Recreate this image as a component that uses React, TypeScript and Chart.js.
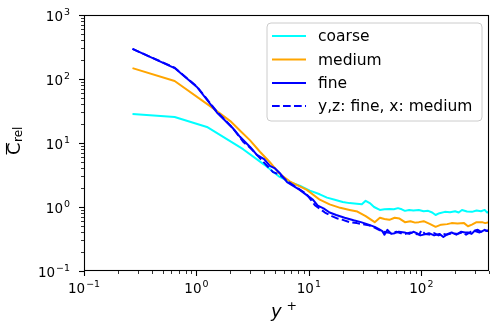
import { useEffect, useRef } from "react";
import { Chart, registerables } from "chart.js";

Chart.register(...registerables);

// ---- data ----
const coarseX = [0.27, 0.64, 1.24, 2.6, 4.0, 5.5, 7.0, 8.3, 10.2, 12.5, 14.5, 17, 20, 23, 26.7, 29.6, 32, 34.8, 38, 42.8, 47, 52, 57, 62, 67, 71.5, 78, 85, 95, 105, 115, 125, 134, 145, 162, 180, 200, 215, 230, 255, 282, 310, 340, 366, 385, 400];
const coarseY = [28.4, 25.5, 17.8, 8.0, 4.6, 2.95, 2.4, 2.15, 1.8, 1.58, 1.4, 1.3, 1.2, 1.15, 1.12, 1.1, 1.25, 1.15, 1.0, 0.9, 0.92, 0.93, 0.92, 0.96, 0.92, 0.87, 0.9, 0.88, 0.9, 0.86, 0.87, 0.82, 0.75, 0.8, 0.84, 0.83, 0.86, 0.82, 0.9, 0.85, 0.84, 0.88, 0.86, 0.9, 0.82, 0.84];

const mediumX = [0.27, 0.64, 1.4, 2.0, 2.5, 3.0, 3.67, 4.5, 5.5, 6.8, 9.6, 12.5, 15.3, 19, 23, 27, 32, 38.5, 42.8, 47, 52, 58, 64, 71.5, 80, 88, 95, 105, 120, 134, 150, 170, 186, 210, 240, 260, 282, 310, 347, 370, 400];
const mediumY = [148, 93, 35, 22, 15, 11, 7.3, 5.0, 3.3, 2.5, 1.85, 1.3, 1.1, 0.97, 0.9, 0.85, 0.72, 0.58, 0.68, 0.65, 0.63, 0.68, 0.66, 0.58, 0.6, 0.57, 0.58, 0.6, 0.54, 0.49, 0.53, 0.54, 0.56, 0.55, 0.56, 0.5, 0.53, 0.58, 0.58, 0.56, 0.58];

const fineX = [0.27, 0.64, 1.01, 1.52, 2.11, 2.44, 3.0, 3.45, 4.0, 4.5, 5.0, 5.5, 6.4, 8.3, 10.9, 12.0, 13.5, 15.3, 17.5, 20.8, 25, 29, 34, 38.5, 42, 45, 47, 50, 54, 58, 63, 71, 78, 85, 91, 98, 105, 117, 130, 145, 157, 172, 186, 205, 225, 245, 260, 280, 300, 318, 340, 366, 385, 400];
const fineY = [295, 148, 75, 30, 17, 12.5, 8.66, 6.5, 5.6, 4.4, 4.0, 3.4, 2.45, 1.85, 1.29, 1.05, 0.95, 0.82, 0.75, 0.68, 0.62, 0.58, 0.53, 0.49, 0.45, 0.42, 0.37, 0.44, 0.38, 0.39, 0.41, 0.40, 0.38, 0.41, 0.39, 0.36, 0.37, 0.39, 0.36, 0.38, 0.34, 0.38, 0.40, 0.37, 0.41, 0.40, 0.40, 0.38, 0.43, 0.44, 0.41, 0.44, 0.42, 0.44];

const mixedX = [0.27, 0.64, 1.01, 1.52, 2.11, 2.6, 3.1, 3.6, 4.2, 4.8, 5.5, 6.5, 8.0, 9.5, 11.3, 13.9, 16, 18, 20, 23, 26.7, 30, 34, 38, 42, 46, 50, 55, 60, 66, 72, 80, 88, 96, 100, 108, 118, 130, 142, 155, 170, 190, 210, 230, 250, 275, 300, 330, 360, 400];
const mixedY = [295, 150, 76, 31, 17, 10.5, 8.0, 6.0, 4.5, 3.5, 3.2, 2.5, 1.95, 1.6, 1.07, 0.82, 0.72, 0.66, 0.63, 0.58, 0.56, 0.54, 0.52, 0.48, 0.44, 0.41, 0.4, 0.39, 0.41, 0.39, 0.38, 0.40, 0.38, 0.37, 0.43, 0.38, 0.37, 0.39, 0.36, 0.38, 0.37, 0.39, 0.38, 0.40, 0.37, 0.41, 0.42, 0.40, 0.43, 0.42];

const seriesLabels = ["coarse", "medium", "fine", "y,z: fine, x: medium"];
const seriesColors = ["#00ffff", "#ffa500", "#0000ff", "#0000ff"];
const xTickExps = [-1, 0, 1, 2];
const yTickExps = [-1, 0, 1, 2, 3];

const FONT = "'DejaVu Sans', sans-serif";

function pts(xs: number[], ys: number[]) {
  return xs.map((x, i) => ({ x, y: ys[i] }));
}

function drawPow(ctx: CanvasRenderingContext2D, exp: number, x: number, y: number, align: "center" | "right") {
  const size = 13.5;
  const base = "10";
  const ex = exp < 0 ? "\u2212" + Math.abs(exp) : String(exp);
  ctx.font = `${size}px ${FONT}`;
  const wb = ctx.measureText(base).width;
  ctx.font = `${size * 0.7}px ${FONT}`;
  const we = ctx.measureText(ex).width;
  const total = wb + 1 + we;
  const sx = align === "center" ? x - total / 2 : x - total;
  ctx.textAlign = "left";
  ctx.textBaseline = "alphabetic";
  ctx.font = `${size}px ${FONT}`;
  ctx.fillText(base, sx, y);
  ctx.font = `${size * 0.7}px ${FONT}`;
  ctx.fillText(ex, sx + wb + 1, y - 6);
}

const decorPlugin = {
  id: "decor",
  afterDraw(chart: any) {
    const ctx: CanvasRenderingContext2D = chart.ctx;
    const xs = chart.scales.x;
    const ys = chart.scales.y;
    const a = chart.chartArea;
    ctx.save();
    ctx.fillStyle = "#000";
    ctx.strokeStyle = "#000";

    // x ticks
    for (const e of xTickExps) {
      for (let m = 1; m <= 9; m++) {
        const v = m * Math.pow(10, e);
        if (v > xs.max + 1e-9) break;
        const px = Math.round(xs.getPixelForValue(v)) + 0.5;
        ctx.lineWidth = m === 1 ? 1.1 : 0.8;
        ctx.beginPath();
        ctx.moveTo(px, a.bottom);
        ctx.lineTo(px, a.bottom + (m === 1 ? 5 : 3));
        ctx.stroke();
      }
      drawPow(ctx, e, xs.getPixelForValue(Math.pow(10, e)), 293, "center");
    }
    // y ticks
    for (const e of yTickExps) {
      for (let m = 1; m <= 9; m++) {
        const v = m * Math.pow(10, e);
        if (v > ys.max + 1e-9) break;
        const py = Math.round(ys.getPixelForValue(v)) + 0.5;
        ctx.lineWidth = m === 1 ? 1.1 : 0.8;
        ctx.beginPath();
        ctx.moveTo(a.left, py);
        ctx.lineTo(a.left - (m === 1 ? 5 : 3), py);
        ctx.stroke();
      }
      drawPow(ctx, e, 70, ys.getPixelForValue(Math.pow(10, e)) + 5.5, "right");
    }

    // spines
    ctx.lineWidth = 1.1;
    ctx.strokeRect(a.left + 0.5, a.top + 0.5, a.right - a.left - 1, a.bottom - a.top - 1);

    // x axis title: y^+
    ctx.textAlign = "left";
    ctx.textBaseline = "alphabetic";
    ctx.font = `oblique 18px ${FONT}`;
    ctx.fillText("y", 271, 317);
    ctx.font = `12.5px ${FONT}`;
    ctx.fillText("+", 286.5, 310);

    // y axis title: overline C, subscript rel
    ctx.save();
    ctx.translate(20, 155);
    ctx.rotate(-Math.PI / 2);
    ctx.font = `18px ${FONT}`;
    const wc = ctx.measureText("C").width;
    ctx.fillText("C", 0, 0);
    ctx.lineWidth = 1.1;
    ctx.beginPath();
    ctx.moveTo(0.5, -13.5);
    ctx.lineTo(wc - 0.5, -13.5);
    ctx.stroke();
    ctx.font = `12px ${FONT}`;
    ctx.fillText("rel", wc + 0.5, 1.5);
    ctx.restore();

    // legend
    const lx = 267, ly = 23, lw = 215, lh = 98, r = 4;
    ctx.beginPath();
    ctx.moveTo(lx + r, ly);
    ctx.arcTo(lx + lw, ly, lx + lw, ly + lh, r);
    ctx.arcTo(lx + lw, ly + lh, lx, ly + lh, r);
    ctx.arcTo(lx, ly + lh, lx, ly, r);
    ctx.arcTo(lx, ly, lx + lw, ly, r);
    ctx.closePath();
    ctx.fillStyle = "rgba(255,255,255,0.8)";
    ctx.fill();
    ctx.strokeStyle = "#cccccc";
    ctx.lineWidth = 1;
    ctx.stroke();

    const ds = chart.data.datasets;
    const rows = [36, 59.5, 83, 106];
    ds.forEach((d: any, i: number) => {
      const yy = rows[i];
      ctx.strokeStyle = d.borderColor;
      ctx.lineWidth = 2;
      ctx.setLineDash(d.borderDash || []);
      ctx.beginPath();
      ctx.moveTo(272, yy);
      ctx.lineTo(306, yy);
      ctx.stroke();
      ctx.setLineDash([]);
      ctx.fillStyle = "#000";
      ctx.font = `15.5px ${FONT}`;
      ctx.textAlign = "left";
      ctx.textBaseline = "alphabetic";
      ctx.fillText(d.label, 318, yy + 5);
    });

    ctx.restore();
  },
};

export default function App() {
  const ref = useRef<HTMLCanvasElement | null>(null);
  useEffect(() => {
    if (!ref.current) return;
    const mk = (i: number, xs: number[], ysv: number[], order: number, dash?: number[]) => ({
      label: seriesLabels[i],
      data: pts(xs, ysv),
      borderColor: seriesColors[i],
      backgroundColor: seriesColors[i],
      borderWidth: 2,
      borderDash: dash,
      borderJoinStyle: "round" as const,
      pointRadius: 0,
      fill: false,
      tension: 0,
      order,
    });
    const chart = new Chart(ref.current, {
      type: "line",
      data: {
        datasets: [
          mk(0, coarseX, coarseY, 4),
          mk(1, mediumX, mediumY, 3),
          mk(2, fineX, fineY, 2),
          mk(3, mixedX, mixedY, 1, [7.7, 3.3]),
        ],
      },
      options: {
        animation: false,
        responsive: false,
        layout: { padding: { top: 15, right: 10, left: 0, bottom: 0 } },
        plugins: { legend: { display: false }, tooltip: { enabled: false } },
        scales: {
          x: {
            type: "logarithmic",
            min: 0.1,
            max: 400,
            ticks: { display: false },
            grid: { display: false },
            border: { display: false },
            afterFit: (s: any) => { s.height = 60; },
          },
          y: {
            type: "logarithmic",
            min: 0.1,
            max: 1000,
            ticks: { display: false },
            grid: { display: false },
            border: { display: false },
            afterFit: (s: any) => { s.width = 84; },
          },
        },
      },
      plugins: [decorPlugin],
    });
    return () => chart.destroy();
  }, []);
  return (
    <div style={{ position: "absolute", left: 0, top: 0, width: 499, height: 331, background: "#fff" }}>
      <canvas ref={ref} width={499} height={331} />
    </div>
  );
}
